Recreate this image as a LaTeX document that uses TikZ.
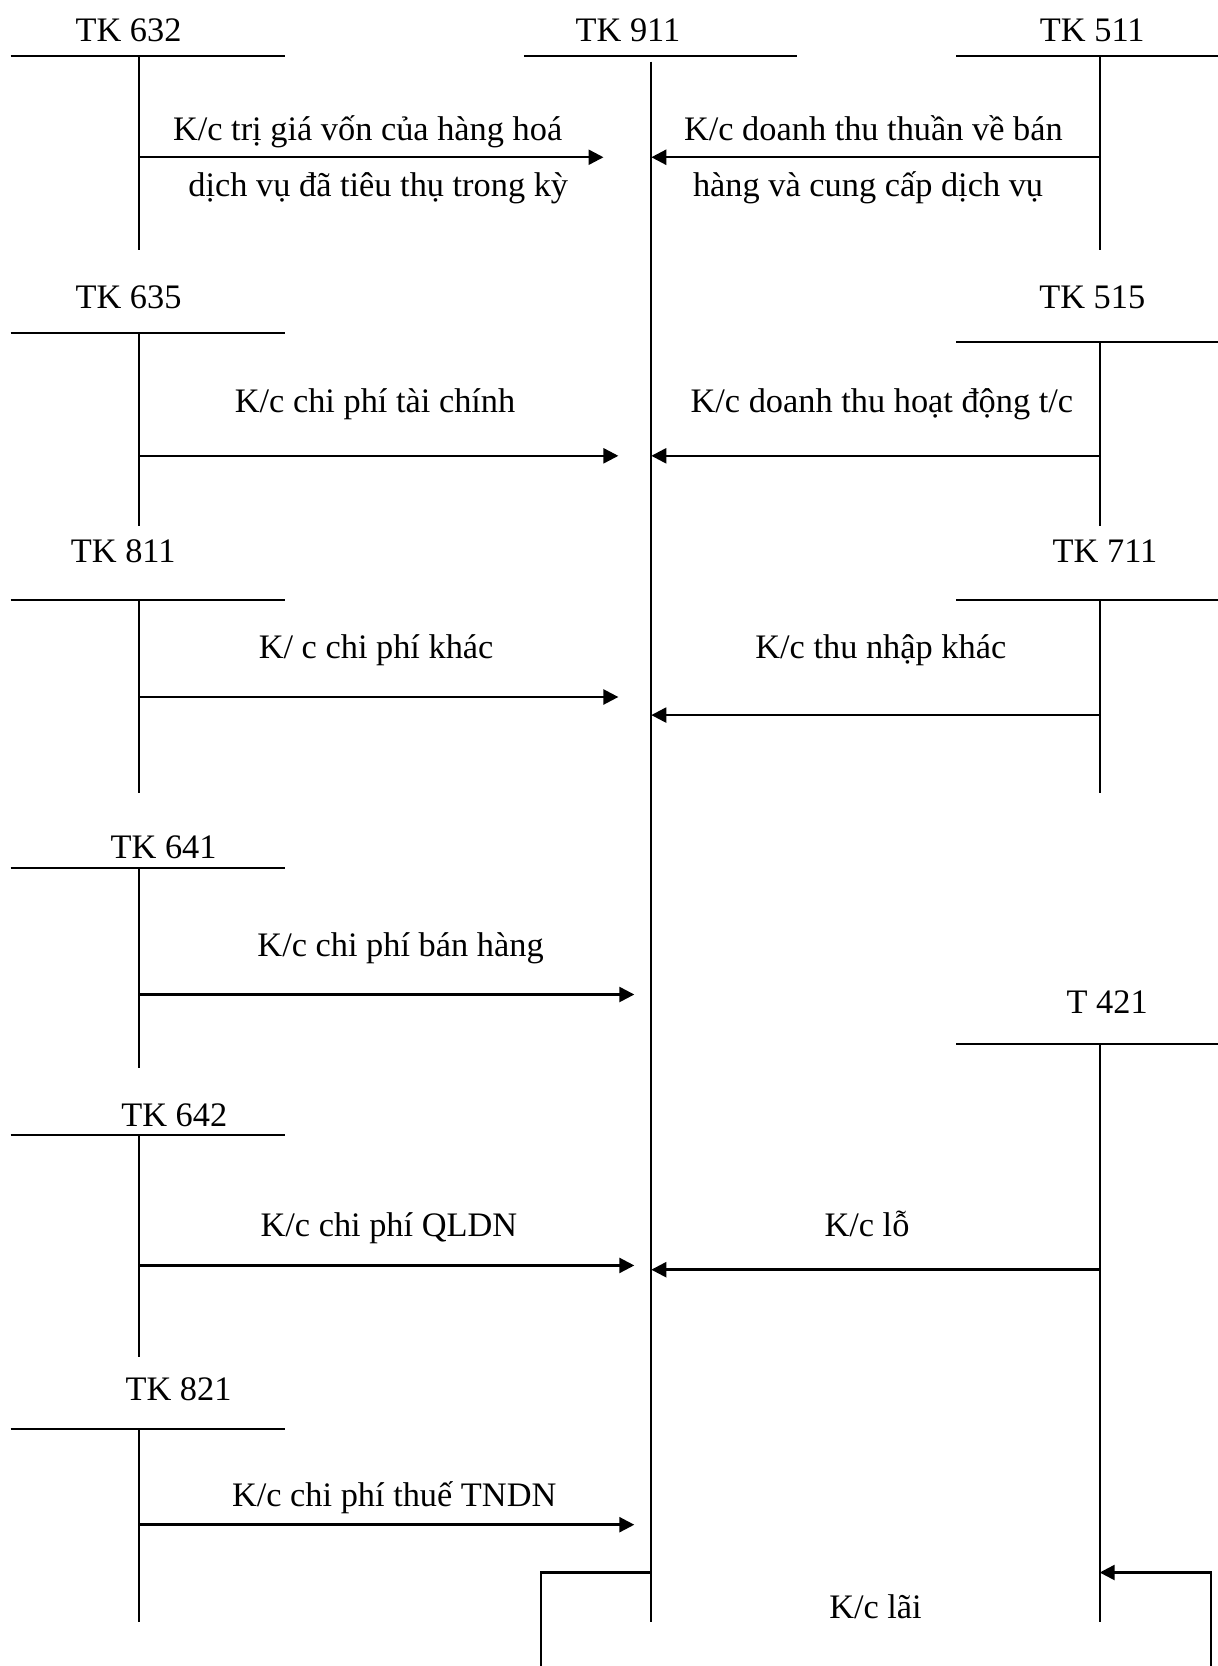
\documentclass[tikz,border=0pt]{standalone}
\usepackage{fontspec}
\setmainfont{Liberation Serif}
\usetikzlibrary{arrows.meta}
\begin{document}
\begin{tikzpicture}[x=0.02cm,y=-0.02cm,line width=1.1pt,
  txt/.style={anchor=base,inner sep=0pt,font=\fontsize{18.4}{22}\selectfont},
  flow/.style={-{Triangle[length=8pt,width=8pt]},line width=1.3pt},
  tline/.style={line width=1.1pt}]
\useasboundingbox (0,0) rectangle (1146,1568);

% ---- account titles
\node[txt] (n632) at (121,39) {TK 632};
\node[txt] (n911) at (591,39) {TK 911};
\node[txt] (n511) at (1028,39) {TK 511};
\node[txt] (n635) at (121,290) {TK 635};
\node[txt] (n515) at (1028,290) {TK 515};
\node[txt] (n811) at (116,529) {TK 811};
\node[txt] (n711) at (1040,529) {TK 711};
\node[txt] (n641) at (154,808) {TK 641};
\node[txt] (n421) at (1042,954) {T 421};
\node[txt] (n642) at (164,1060) {TK 642};
\node[txt] (n821) at (168,1318) {TK 821};

% ---- T-accounts: heading rule and stem
\draw[tline] (10,53) -- (268,53);   \draw[tline] (131,53) -- (131,235);
\draw[tline] (493,53) -- (750,53);  \draw[tline] (613,58) -- (613,1527);
\draw[tline] (900,53) -- (1146,53); \draw[tline] (1035,53) -- (1035,235);
\draw[tline] (10,313) -- (268,313); \draw[tline] (131,313) -- (131,495);
\draw[tline] (900,322) -- (1146,322); \draw[tline] (1035,322) -- (1035,495);
\draw[tline] (10,565) -- (268,565); \draw[tline] (131,565) -- (131,746);
\draw[tline] (900,565) -- (1146,565); \draw[tline] (1035,565) -- (1035,746);
\draw[tline] (10,817) -- (268,817); \draw[tline] (131,817) -- (131,1005);
\draw[tline] (900,983) -- (1146,983); \draw[tline] (1035,983) -- (1035,1527);
\draw[tline] (10,1068) -- (268,1068); \draw[tline] (131,1068) -- (131,1277);
\draw[tline] (10,1345) -- (268,1345); \draw[tline] (131,1345) -- (131,1527);

% ---- transfer points
\coordinate (s632) at (131,148);  \coordinate (e632) at (568,148);
\coordinate (s511) at (1035,148); \coordinate (e511) at (613,148);
\coordinate (s635) at (131,429);  \coordinate (e635) at (582,429);
\coordinate (s515) at (1035,429); \coordinate (e515) at (613,429);
\coordinate (s811) at (131,656);  \coordinate (e811) at (582,656);
\coordinate (s711) at (1035,673); \coordinate (e711) at (613,673);
\coordinate (s641) at (131,936);  \coordinate (e641) at (597,936);
\coordinate (s642) at (131,1191); \coordinate (e642) at (597,1191);
\coordinate (sloss) at (1035,1195); \coordinate (eloss) at (613,1195);
\coordinate (s821) at (131,1435); \coordinate (e821) at (597,1435);
\coordinate (sprofit) at (613,1480); \coordinate (eprofit) at (1035,1480);
\coordinate (pl) at (509,1568); \coordinate (pr) at (1140,1568);

\draw[flow] (s632) -- (e632);
\draw[flow] (s511) -- (e511);
\draw[flow] (s635) -- (e635);
\draw[flow] (s515) -- (e515);
\draw[flow] (s811) -- (e811);
\draw[flow] (s711) -- (e711);
\draw[flow] (s641) -- (e641);
\draw[flow] (s642) -- (e642);
\draw[flow] (sloss) -- (eloss);
\draw[flow] (s821) -- (e821);
\draw[tline] (sprofit) -| (pl);
\draw[flow] (pr) |- (eprofit);

% ---- entry descriptions
\node[txt] (d1a) at (346,132) {K/c trị giá vốn của hàng hoá};
\node[txt] (d1b) at (356,185) {dịch vụ đã tiêu thụ trong kỳ};
\node[txt] (d2a) at (822,132) {K/c doanh thu thuần về bán};
\node[txt] (d2b) at (817,185) {hàng và cung cấp dịch vụ};
\node[txt] (d3) at (353,388) {K/c chi phí tài chính};
\node[txt] (d4) at (830,388) {K/c doanh thu hoạt động t/c};
\node[txt] (d5) at (354,620) {K/ c chi phí khác};
\node[txt] (d6) at (829,620) {K/c thu nhập khác};
\node[txt] (d7) at (377,900) {K/c chi phí bán hàng};
\node[txt] (d8) at (366,1164) {K/c chi phí QLDN};
\node[txt] (d9) at (816,1164) {K/c lỗ};
\node[txt] (d10) at (371,1418) {K/c chi phí thuế TNDN};
\node[txt] (d11) at (824,1523) {K/c lãi};
\end{tikzpicture}
\end{document}
